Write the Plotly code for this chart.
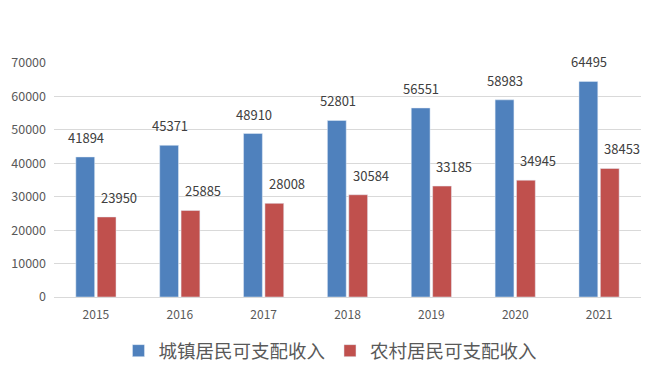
import plotly.graph_objects as go

years = ["2015", "2016", "2017", "2018", "2019", "2020", "2021"]
urban = [41894, 45371, 48910, 52801, 56551, 58983, 64495]
rural = [23950, 25885, 28008, 30584, 33185, 34945, 38453]
series_names = ["城镇居民可支配收入", "农村居民可支配收入"]
y_ticks = [0, 10000, 20000, 30000, 40000, 50000, 60000, 70000]

font_fam = "Noto Sans CJK SC, Noto Sans, sans-serif"

fig = go.Figure()
fig.add_trace(go.Bar(x=years, y=urban, name=series_names[0], marker_color="#4F81BD"))
fig.add_trace(go.Bar(x=years, y=rural, name=series_names[1], marker_color="#C0504D"))

# data labels above bars (x given as category index)
for vals, shift in ((urban, -10), (rural, 23)):
    for i, v in enumerate(vals):
        fig.add_annotation(x=i, y=v, xref="x", yref="y", text=str(v), showarrow=False,
                           xshift=shift, yanchor="bottom", yshift=8,
                           font=dict(size=13, color="#404040", family=font_fam))

# page body has an 8px default margin, so the figure is sized to fit the window
fig.update_layout(
    width=648, height=370,
    margin=dict(l=46, r=15, t=55, b=81, autoexpand=False),
    paper_bgcolor="white", plot_bgcolor="white",
    font=dict(family=font_fam, color="#595959", size=12),
    barmode="group", bargap=0.49, bargroupgap=0.12,
    showlegend=True,
    legend=dict(orientation="h", x=0.471, xanchor="center", y=-0.15, yanchor="top",
                font=dict(size=18.5, color="#595959"), itemwidth=30,
                traceorder="normal"),
    xaxis=dict(type="category", range=[-0.5, len(years) - 0.5], showline=True,
               linecolor="#D9D9D9", linewidth=1, automargin=False,
               ticks="", ticklabelstandoff=7, tickfont=dict(size=12, color="#595959")),
    yaxis=dict(range=[0, 70000], tickvals=y_ticks, tickformat="d", showgrid=True,
               gridcolor="#D9D9D9", gridwidth=1, zeroline=False, showline=False,
               automargin=False, ticks="", ticklabelstandoff=7,
               tickfont=dict(size=12.5, color="#595959")),
)

fig.write_html("out.html")
